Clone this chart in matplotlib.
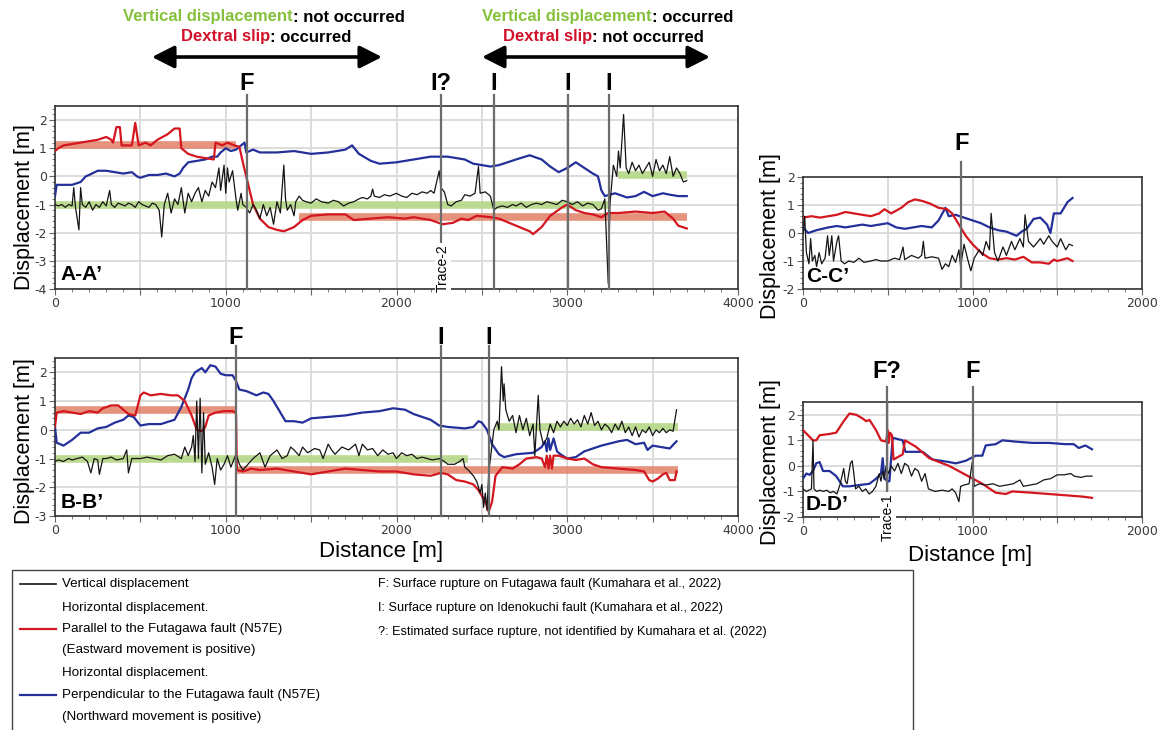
import matplotlib
matplotlib.use('Agg')
import matplotlib.pyplot as plt
from matplotlib import font_manager
from matplotlib.lines import Line2D
from matplotlib.patches import Rectangle, FancyArrowPatch
from matplotlib.ticker import MultipleLocator, FuncFormatter

# ---------------------------------------------------------------
# data  (distance [m], displacement [m])
# ---------------------------------------------------------------

# ----- A-A' -----
aa_vert = [(0, -1.0), (20, -1.05), (40, -1.0), (60, -1.1), (80, -1.0), (100, -1.05), (110, -0.4),
           (120, -1.1), (140, -1.9), (150, -0.4), (160, -1.0), (180, -1.1), (200, -0.9), (220, -1.2),
           (240, -1.0), (260, -1.1), (280, -0.9), (300, -1.05), (320, -0.5), (330, -1.0), (350, -1.1),
           (370, -0.95), (390, -1.0), (410, -1.05), (430, -0.95), (450, -1.0), (470, -1.1), (490, -0.9),
           (510, -1.0), (530, -1.05), (550, -1.1), (570, -0.95), (590, -1.0), (610, -1.2), (625, -2.15),
           (640, -1.0), (660, -0.6), (680, -1.3), (700, -0.8), (720, -1.0), (740, -0.4), (760, -1.3),
           (780, -0.6), (800, -0.9), (820, -0.6), (840, -0.4), (860, -0.9), (880, -0.5), (900, -0.7),
           (920, -0.2), (940, -0.4), (960, 0.3), (970, -0.5), (990, 0.4), (1000, -0.6), (1010, 0.3),
           (1020, -0.2), (1040, 0.2), (1060, -0.8), (1070, -1.2), (1090, -0.6), (1100, -1.0),
           (1120, -1.1), (1140, -1.3), (1160, -1.0), (1180, -1.2), (1200, -1.5), (1220, -1.0),
           (1240, -1.4), (1260, -1.1), (1280, -1.7), (1300, -0.9), (1320, -1.3), (1340, 0.4),
           (1350, -0.8), (1360, -1.2), (1380, -1.0), (1400, -1.4), (1410, -0.9), (1430, -0.7),
           (1450, -0.85), (1470, -0.9), (1500, -0.95), (1530, -0.8), (1560, -0.9), (1600, -0.95),
           (1630, -0.85), (1660, -0.9), (1690, -1.05), (1720, -0.95), (1750, -0.9), (1780, -0.8),
           (1800, -0.75), (1830, -0.8), (1850, -0.7), (1860, -0.45), (1870, -0.7), (1900, -0.75),
           (1930, -0.65), (1960, -0.7), (2000, -0.6), (2030, -0.7), (2060, -0.75), (2090, -0.6),
           (2120, -0.65), (2150, -0.55), (2180, -0.6), (2200, -0.5), (2220, -0.6), (2250, 0.2),
           (2260, -0.4), (2280, -0.55), (2300, -1.0), (2320, -1.05), (2350, -0.9), (2380, -0.85),
           (2400, -0.65), (2430, -0.7), (2460, -0.6), (2480, 0.35), (2490, -0.6), (2520, -0.55),
           (2550, -0.7), (2570, -1.2), (2590, -1.1), (2620, -1.05), (2650, -1.1), (2680, -1.0),
           (2700, -1.05), (2730, -0.95), (2760, -1.1), (2790, -1.0), (2820, -0.95), (2850, -1.0),
           (2880, -0.9), (2910, -0.95), (2940, -1.0), (2970, -0.85), (3000, -0.9), (3030, -1.0),
           (3060, -0.9), (3090, -1.05), (3120, -0.95), (3150, -1.0), (3180, -1.2), (3200, -1.15),
           (3220, -0.8), (3240, -3.8), (3250, -1.0), (3270, 0.4), (3290, 0.0), (3300, 0.9),
           (3310, 0.3), (3330, 2.2), (3345, 0.3), (3360, 0.1), (3380, 0.5), (3400, 0.2), (3420, 0.4),
           (3440, 0.1), (3460, 0.3), (3480, 0.5), (3500, 0.0), (3520, 0.6), (3540, 0.2), (3560, 0.4),
           (3580, 0.1), (3600, 0.7), (3620, 0.0), (3640, 0.3), (3660, 0.1), (3680, -0.2), (3700, -0.15)]
aa_par = [(0, 0.9), (20, 1.0), (50, 1.1), (150, 1.2), (250, 1.3), (300, 1.4), (330, 1.3), (340, 1.2),
          (360, 1.75), (380, 1.75), (390, 1.1), (450, 1.1), (470, 1.9), (490, 1.1), (530, 1.2),
          (560, 1.1), (600, 1.3), (660, 1.5), (700, 1.7), (730, 1.7), (740, 1.0), (780, 0.8),
          (830, 0.7), (880, 0.65), (930, 0.6), (940, 1.2), (980, 1.1), (1010, 1.2), (1050, 1.1),
          (1080, 1.05), (1100, 0.5), (1120, 0.0), (1140, -0.5), (1160, -1.0), (1200, -1.5),
          (1250, -1.8), (1300, -1.9), (1340, -1.95), (1400, -1.8), (1450, -1.55), (1500, -1.4),
          (1600, -1.35), (1700, -1.35), (1750, -1.55), (1850, -1.5), (1950, -1.45), (2050, -1.5),
          (2100, -1.45), (2200, -1.55), (2270, -1.7), (2330, -1.65), (2380, -1.5), (2420, -1.55),
          (2470, -1.4), (2550, -1.45), (2600, -1.5), (2680, -1.7), (2720, -1.8), (2780, -1.95),
          (2800, -2.05), (2850, -1.8), (2900, -1.4), (2970, -1.1), (3000, -1.0), (3050, -1.2),
          (3100, -1.3), (3150, -1.35), (3200, -1.45), (3240, -1.3), (3300, -1.3), (3400, -1.25),
          (3500, -1.3), (3570, -1.25), (3620, -1.5), (3650, -1.75), (3700, -1.85)]
aa_perp = [(0, -0.7), (10, -0.3), (100, -0.3), (150, -0.2), (180, 0.0), (200, 0.05), (250, 0.2),
           (300, 0.2), (350, 0.15), (400, 0.1), (450, 0.15), (480, 0.0), (500, -0.05), (550, 0.05),
           (600, 0.05), (650, 0.1), (700, 0.0), (730, 0.1), (750, 0.3), (780, 0.5), (830, 0.55),
           (880, 0.6), (920, 0.7), (950, 0.7), (970, 0.85), (1000, 1.0), (1030, 0.9), (1060, 0.95),
           (1090, 1.1), (1110, 1.2), (1120, 0.85), (1140, 0.9), (1160, 0.95), (1180, 0.9),
           (1200, 0.85), (1300, 0.85), (1400, 0.9), (1450, 0.85), (1500, 0.8), (1600, 0.85),
           (1700, 0.95), (1740, 1.1), (1780, 0.8), (1850, 0.55), (1900, 0.45), (2000, 0.5),
           (2100, 0.6), (2200, 0.7), (2300, 0.7), (2400, 0.6), (2450, 0.45), (2500, 0.4),
           (2550, 0.35), (2600, 0.4), (2700, 0.6), (2780, 0.75), (2850, 0.6), (2900, 0.35),
           (2950, 0.15), (3000, 0.3), (3050, 0.5), (3100, 0.3), (3150, 0.1), (3180, 0.0),
           (3200, -0.5), (3220, -0.7), (3280, -0.6), (3350, -0.75), (3400, -0.7), (3450, -0.55),
           (3500, -0.7), (3560, -0.6), (3600, -0.65), (3650, -0.7), (3700, -0.7)]
aa_par_ref = [(0, 1060, 1.1), (1430, 3700, -1.45)]      # (from, to, level)
aa_vert_ref = [(0, 3240, -1.0), (3300, 3700, 0.05)]
aa_faults = [(1124, 'F'), (2260, 'I?'), (2571, 'I'), (3004, 'I'), (3244, 'I')]

# ----- B-B' -----
bb_vert = [(0, -1.1), (20, -1.05), (50, -1.1), (80, -1.0), (100, -1.05), (130, -1.0), (160, -0.95),
           (190, -1.1), (210, -1.5), (230, -1.0), (250, -1.05), (260, -1.55), (280, -1.0), (300, -1.0),
           (330, -0.95), (360, -1.05), (400, -1.0), (420, -0.7), (430, -1.5), (450, -1.0), (500, -1.0),
           (540, -0.95), (580, -1.0), (620, -1.05), (660, -0.9), (700, -0.85), (740, -1.0), (760, -0.6),
           (780, -0.9), (800, -0.6), (810, -0.2), (820, -1.1), (830, 1.0), (840, -1.0), (850, 1.1),
           (860, -1.5), (870, 0.6), (880, -1.2), (900, -0.8), (920, -1.3), (935, -1.9), (950, -1.0),
           (970, -1.4), (990, -1.2), (1010, -0.9), (1030, -1.3), (1050, -1.0), (1060, -0.85),
           (1080, -1.2), (1100, -1.4), (1130, -1.2), (1160, -1.0), (1200, -0.8), (1230, -1.3),
           (1260, -0.9), (1300, -0.7), (1330, -1.0), (1360, -0.9), (1380, -0.6), (1400, -0.7),
           (1430, -0.9), (1450, -0.6), (1480, -0.8), (1520, -0.65), (1550, -0.7), (1570, -1.0),
           (1600, -0.5), (1620, -0.7), (1640, -0.85), (1680, -0.6), (1720, -0.7), (1760, -0.5),
           (1780, -0.9), (1800, -0.5), (1830, -0.7), (1860, -0.65), (1890, -0.9), (1920, -0.7),
           (1950, -0.85), (1980, -0.8), (2000, -1.0), (2030, -0.8), (2060, -0.9), (2090, -0.85),
           (2120, -1.0), (2150, -0.95), (2180, -1.0), (2210, -1.05), (2250, -1.0), (2280, -1.1),
           (2300, -1.2), (2340, -1.2), (2370, -1.1), (2390, -1.0), (2400, -1.3), (2420, -1.4),
           (2450, -1.6), (2470, -1.8), (2490, -2.2), (2500, -1.9), (2510, -2.7), (2520, -2.2),
           (2530, -2.8), (2540, -1.5), (2550, -1.0), (2570, 0.0), (2590, 0.3), (2600, 0.0),
           (2615, 2.2), (2625, 1.0), (2630, 1.6), (2640, 0.7), (2660, 0.3), (2680, 0.5), (2700, -0.1),
           (2720, 0.5), (2740, 0.0), (2760, 0.4), (2780, -0.2), (2800, 0.2), (2810, -0.9), (2830, 1.2),
           (2840, 0.0), (2860, -0.5), (2880, -0.3), (2900, 0.2), (2920, -0.1), (2940, 0.3), (2960, 0.1),
           (2980, 0.3), (3000, 0.15), (3020, 0.4), (3040, 0.2), (3060, 0.35), (3080, 0.1), (3100, 0.5),
           (3120, 0.2), (3140, 0.6), (3160, 0.15), (3180, 0.3), (3200, 0.0), (3220, 0.2), (3240, 0.1),
           (3260, -0.1), (3280, 0.2), (3300, 0.0), (3320, 0.3), (3340, -0.1), (3360, 0.1), (3380, -0.2),
           (3400, 0.1), (3420, -0.25), (3440, 0.0), (3460, -0.1), (3480, 0.1), (3500, -0.2), (3520, 0.0),
           (3540, -0.1), (3560, 0.05), (3580, -0.1), (3600, 0.0), (3620, -0.05), (3640, 0.7)]
bb_par = [(0, 0.1), (10, 0.6), (50, 0.65), (100, 0.6), (150, 0.55), (200, 0.65), (250, 0.6),
          (280, 0.75), (330, 0.85), (370, 0.85), (400, 0.7), (430, 0.55), (470, 0.5), (500, 1.2),
          (520, 1.3), (560, 1.2), (620, 1.25), (680, 1.2), (720, 1.2), (760, 1.0), (800, 0.5),
          (830, 0.0), (860, -0.05), (880, 0.1), (900, 0.5), (940, 0.6), (990, 0.65), (1040, 0.65),
          (1060, 0.6), (1065, -1.4), (1100, -1.45), (1150, -1.35), (1200, -1.4), (1300, -1.35),
          (1400, -1.45), (1500, -1.55), (1600, -1.45), (1700, -1.35), (1800, -1.4), (1900, -1.45),
          (2000, -1.45), (2100, -1.55), (2200, -1.6), (2260, -1.5), (2300, -1.55), (2350, -1.75),
          (2400, -1.8), (2450, -1.9), (2480, -2.1), (2500, -2.3), (2520, -2.5), (2540, -2.85),
          (2560, -2.5), (2580, -1.6), (2620, -1.3), (2680, -1.35), (2720, -1.2), (2760, -1.0),
          (2820, -0.95), (2850, -1.0), (2870, -1.3), (2880, -0.9), (2890, -1.35), (2900, -0.9),
          (2910, -1.35), (2920, -0.9), (2950, -0.9), (3000, -1.0), (3050, -1.05), (3100, -1.0),
          (3150, -1.2), (3200, -1.3), (3300, -1.35), (3400, -1.4), (3450, -1.45), (3480, -1.75),
          (3500, -1.8), (3530, -1.7), (3560, -1.55), (3580, -1.5), (3600, -1.75), (3630, -1.75),
          (3640, -1.45)]
bb_perp = [(0, 0.1), (10, -0.45), (50, -0.55), (100, -0.35), (150, -0.1), (200, -0.1), (250, 0.05),
           (300, 0.1), (350, 0.25), (400, 0.35), (430, 0.5), (460, 0.45), (500, 0.15), (550, 0.2),
           (620, 0.2), (700, 0.35), (740, 0.8), (780, 1.4), (800, 1.8), (820, 2.0), (860, 2.15),
           (880, 2.0), (910, 2.25), (940, 2.2), (970, 1.95), (1000, 1.9), (1040, 1.9), (1060, 1.7),
           (1080, 1.4), (1120, 1.35), (1180, 1.2), (1220, 1.3), (1250, 1.25), (1280, 1.0), (1320, 0.6),
           (1350, 0.3), (1400, 0.3), (1450, 0.25), (1500, 0.4), (1600, 0.45), (1700, 0.5), (1800, 0.6),
           (1900, 0.65), (1980, 0.75), (2050, 0.7), (2100, 0.55), (2200, 0.35), (2250, 0.15),
           (2300, 0.1), (2400, 0.05), (2450, 0.1), (2480, 0.3), (2500, 0.25), (2530, 0.0),
           (2560, -0.5), (2600, -0.85), (2630, -0.95), (2700, -0.85), (2800, -0.8), (2850, -0.6),
           (2870, -0.4), (2880, -0.75), (2890, -0.3), (2900, -0.7), (2920, -0.3), (2940, -0.75),
           (2960, -0.85), (3000, -1.0), (3050, -0.95), (3100, -0.75), (3200, -0.55), (3300, -0.4),
           (3350, -0.35), (3400, -0.5), (3450, -0.45), (3470, -0.7), (3500, -0.55), (3550, -0.6),
           (3600, -0.65), (3640, -0.4)]
bb_par_ref = [(0, 1060, 0.7), (1060, 3650, -1.4)]
bb_vert_ref = [(0, 2420, -1.0), (2580, 3650, 0.1)]
bb_faults = [(1060, 'F'), (2260, 'I'), (2540, 'I')]

# ----- C-C' -----
cc_vert = [(0, 0.0), (10, 0.6), (20, -0.7), (35, -1.1), (45, -0.2), (55, -1.0), (70, -0.8), (80, -1.2),
           (95, -0.7), (110, -1.1), (130, -0.9), (145, -0.1), (155, -0.8), (170, -0.1), (180, -1.0),
           (200, -0.3), (210, -0.1), (225, -1.0), (245, -1.1), (270, -1.0), (300, -1.05), (330, -0.9),
           (360, -1.05), (400, -1.0), (430, -0.95), (460, -1.0), (500, -1.0), (540, -0.9), (570, -0.95),
           (590, -0.5), (600, -0.95), (640, -0.8), (680, -0.9), (700, -0.8), (710, -0.3), (720, -0.9),
           (760, -0.85), (800, -0.9), (820, -1.3), (840, -1.1), (860, -1.2), (880, -0.8), (900, -1.05),
           (920, -0.6), (930, -1.2), (950, -0.4), (970, -0.9), (990, -1.35), (1010, -0.9), (1040, -0.6),
           (1060, -0.8), (1080, -0.3), (1100, -0.6), (1110, 0.7), (1130, -0.7), (1150, -1.0),
           (1180, -0.5), (1200, -0.8), (1230, -0.3), (1250, -0.6), (1280, -0.2), (1300, -0.5),
           (1310, 0.65), (1330, -0.3), (1360, -0.5), (1400, -0.2), (1420, -0.4), (1450, -0.1),
           (1470, -0.3), (1500, -0.5), (1520, -0.2), (1550, -0.6), (1570, -0.4), (1590, -0.45)]
cc_par = [(0, 0.55), (50, 0.6), (100, 0.55), (150, 0.6), (200, 0.65), (250, 0.75), (300, 0.7),
          (350, 0.65), (400, 0.6), (450, 0.7), (480, 0.85), (520, 0.7), (580, 0.9), (620, 1.1),
          (660, 1.2), (700, 1.15), (750, 1.05), (800, 0.9), (850, 0.85), (880, 0.7), (920, 0.3),
          (960, -0.1), (1000, -0.4), (1050, -0.7), (1100, -0.9), (1150, -0.95), (1200, -0.9),
          (1250, -0.95), (1300, -0.85), (1350, -1.05), (1400, -1.05), (1450, -1.1), (1480, -0.95),
          (1500, -1.0), (1560, -0.9), (1590, -1.0)]
cc_perp = [(0, 0.2), (30, 0.0), (80, 0.1), (150, 0.2), (200, 0.25), (250, 0.2), (300, 0.25), (350, 0.3),
           (400, 0.25), (450, 0.3), (500, 0.35), (550, 0.2), (600, 0.15), (650, 0.2), (700, 0.25),
           (760, 0.2), (800, 0.45), (840, 0.9), (860, 0.6), (900, 0.65), (950, 0.55), (1000, 0.45),
           (1050, 0.35), (1100, 0.2), (1150, 0.1), (1200, 0.05), (1260, -0.1), (1290, 0.05),
           (1320, 0.15), (1360, 0.5), (1400, 0.55), (1440, 0.3), (1460, 0.0), (1480, 0.7),
           (1520, 0.7), (1560, 1.1), (1590, 1.25)]
cc_faults = [(935, 'F')]

# ----- D-D' -----
dd_vert = [(0, -0.9), (20, -1.0), (50, -0.9), (59, 1.0), (65, -0.9), (80, -1.0), (100, -0.95),
           (120, -1.0), (140, -0.95), (160, -1.05), (180, -1.0), (200, -1.1), (220, -0.7), (240, -0.1),
           (250, -0.6), (260, -0.7), (280, 0.1), (290, 0.2), (300, -0.3), (310, -0.9), (330, -0.8),
           (350, -1.0), (370, -0.9), (390, -1.1), (410, -1.0), (430, -0.8), (450, -0.3), (460, -0.6),
           (470, -0.2), (480, -0.5), (490, 0.0), (505, -0.3), (520, 0.0), (540, -0.2), (560, 0.1),
           (580, -0.3), (600, 0.1), (620, 0.0), (640, -0.4), (660, -0.1), (680, -0.2), (700, -0.6),
           (720, -0.3), (740, -0.9), (780, -1.0), (820, -0.95), (860, -1.0), (880, -0.9), (900, -1.05),
           (920, -1.4), (930, -0.8), (950, -0.75), (980, -0.7), (1000, 0.2), (1010, -0.8), (1040, -0.7),
           (1080, -0.75), (1120, -0.7), (1160, -0.8), (1200, -0.75), (1240, -0.7), (1280, -0.55),
           (1300, -0.8), (1340, -0.75), (1380, -0.7), (1420, -0.55), (1460, -0.5), (1500, -0.35),
           (1540, -0.35), (1580, -0.3), (1600, -0.4), (1640, -0.45), (1670, -0.4), (1705, -0.4)]
dd_par = [(0, 1.4), (59, 1.0), (78, 1.0), (98, 1.2), (157, 1.25), (196, 1.3), (235, 1.7), (274, 2.05),
          (314, 2.0), (353, 1.85), (372, 1.75), (392, 1.8), (431, 1.4), (460, 1.0), (490, 0.95),
          (500, 1.4), (506, 0.9), (513, 1.3), (525, 1.2), (534, 0.25), (588, 0.45), (602, 1.0),
          (666, 0.75), (745, 0.3), (862, 0.0), (960, -0.35), (1058, -0.7), (1137, -1.05), (1196, -1.1),
          (1235, -1.0), (1352, -1.05), (1450, -1.1), (1548, -1.15), (1646, -1.2), (1705, -1.25)]
dd_perp = [(0, -0.5), (20, -0.3), (39, -0.35), (59, -0.2), (78, 0.1), (98, 0.15), (118, -0.2),
           (157, -0.2), (196, -0.4), (235, -0.8), (274, -0.8), (333, -0.75), (392, -0.7), (431, -0.5),
           (460, -0.3), (470, 0.3), (480, -0.5), (500, -0.6), (510, -0.6), (529, 1.1), (588, 1.0),
           (604, 0.55), (706, 0.55), (764, 0.25), (862, 0.15), (902, 0.1), (960, 0.2), (1019, 0.4),
           (1058, 0.4), (1078, 0.8), (1137, 0.85), (1176, 1.0), (1254, 0.95), (1352, 0.9), (1450, 0.9),
           (1548, 0.85), (1597, 0.85), (1627, 0.7), (1666, 0.8), (1705, 0.65)]
dd_faults = [(496, 'F?'), (1000, 'F')]

# ---------------------------------------------------------------
# styles
# ---------------------------------------------------------------
W, H = 1166, 730
RED = '#d4161f'
BLUE = '#23309a'
BLACK = '#141414'
RED_REF = '#e28068'
GREEN_REF = '#b5d886'
GREEN_TXT = '#85c13b'
RED_TXT = '#d1122b'
FAULT_GRAY = '#6c6c6c'

# a condensed face if one is installed, else plain Liberation Sans made a bit smaller
installed = {f.name for f in font_manager.fontManager.ttflist}
if 'Liberation Sans Narrow' in installed:
    NARROW, NSCALE = 'Liberation Sans Narrow', 1.0
else:
    NARROW, NSCALE = 'Liberation Sans', 0.86
plt.rcParams['font.family'] = ['Liberation Sans', 'DejaVu Sans']
plt.rcParams['axes.unicode_minus'] = False

fig = plt.figure(figsize=(W / 100, H / 100), dpi=100)


def fx(px):
    return px / W


def fy(py):
    return 1 - py / H


def make_axes(left, top, right, bottom, xmax, ylim, name):
    ax = fig.add_axes([fx(left), fy(bottom), (right - left) / W, (bottom - top) / H])
    ax.set_xlim(0, xmax)
    ax.set_ylim(*ylim)
    ax.xaxis.set_major_locator(MultipleLocator(500))
    ax.xaxis.set_minor_locator(MultipleLocator(100))
    ax.xaxis.set_major_formatter(FuncFormatter(lambda v, p: '%d' % v if v % 1000 == 0 else ''))
    ax.yaxis.set_major_locator(MultipleLocator(1))
    ax.yaxis.set_minor_locator(MultipleLocator(0.2))
    ax.yaxis.set_major_formatter(FuncFormatter(lambda v, p: '%d' % round(v)))
    ax.grid(True, which='major', color='#dcdcdc', lw=1.4)
    ax.set_axisbelow(True)
    ax.tick_params(which='both', direction='out', color='#666666', labelcolor='#3a3a3a')
    ax.tick_params(which='major', length=4, labelsize=9, pad=2)
    ax.tick_params(which='minor', length=2.5)
    for tl in ax.get_xticklabels() + ax.get_yticklabels():
        tl.set_family('DejaVu Sans')
    for s in ax.spines.values():
        s.set_color('#333333')
        s.set_linewidth(1.2)
    ax.text(0.008, 0.025, name, transform=ax.transAxes, ha='left', va='bottom',
            fontsize=15, fontweight='bold', zorder=6,
            bbox=dict(fc='white', ec='none', pad=0.5))
    return ax


def draw_series(ax, vert, par, perp, par_ref=(), vert_ref=()):
    for x0, x1, lev in par_ref:
        ax.plot([x0, x1], [lev, lev], color=RED_REF, lw=5.5, alpha=0.85, solid_capstyle='butt', zorder=2)
    for x0, x1, lev in vert_ref:
        ax.plot([x0, x1], [lev, lev], color=GREEN_REF, lw=5.5, alpha=0.9, solid_capstyle='butt', zorder=2)
    for data, col, lw in ((perp, BLUE, 1.6), (par, RED, 1.6), (vert, BLACK, 0.9)):
        xs = [p[0] for p in data]
        ys = [p[1] for p in data]
        ax.plot(xs, ys, color=col, lw=lw, zorder=3)


def draw_faults(ax, faults, line_px, label_px):
    h = ax.get_position().height * H
    for x, lbl in faults:
        ax.axvline(x, ymin=0, ymax=1 + line_px / h, color=FAULT_GRAY, lw=1.6, clip_on=False, zorder=4)
        ax.annotate(lbl, xy=(x, 1), xycoords=ax.get_xaxis_transform(),
                    xytext=(0, label_px * 0.72), textcoords='offset points',
                    ha='center', va='center', fontsize=17, fontweight='bold', family=NARROW)


def y_label(ax, right_px, center_px):
    # right_px: x of the label's right edge, center_px: y of its centre (figure pixels)
    pos = ax.get_position()
    ax.set_ylabel('Displacement [m]', fontsize=15.5)
    ax.yaxis.set_label_coords((fx(right_px) - pos.x0) / pos.width,
                              (fy(center_px) - pos.y0) / pos.height)


def x_label(ax, center_x_px, center_y_px):
    pos = ax.get_position()
    ax.set_xlabel('Distance [m]', fontsize=16, va='center')
    ax.xaxis.set_label_coords((fx(center_x_px) - pos.x0) / pos.width,
                              (fy(center_y_px) - pos.y0) / pos.height)


# ----- A-A' -----
axA = make_axes(55, 106, 738, 289, 4000, (-4, 2.5), 'A-A\u2019')
draw_series(axA, aa_vert, aa_par, aa_perp, aa_par_ref, aa_vert_ref)
draw_faults(axA, aa_faults, 11, 23)
axA.text(2272, -3.25, 'Trace-2', rotation=90, ha='center', va='center', fontsize=10,
         zorder=5, bbox=dict(fc='white', ec='none', pad=0.8))
y_label(axA, 35, 207)

# ----- C-C' -----
axC = make_axes(803, 177, 1142, 289, 2000, (-2, 2), 'C-C\u2019')
draw_series(axC, cc_vert, cc_par, cc_perp)
draw_faults(axC, cc_faults, 15, 33)
y_label(axC, 781, 236)

# ----- B-B' -----
axB = make_axes(55, 358, 738, 516, 4000, (-3, 2.5), 'B-B\u2019')
draw_series(axB, bb_vert, bb_par, bb_perp, bb_par_ref, bb_vert_ref)
draw_faults(axB, bb_faults, 12, 21)
y_label(axB, 35, 441)
x_label(axB, 381, 552)

# ----- D-D' -----
axD = make_axes(803, 402, 1142, 517, 2000, (-2, 2.5), 'D-D\u2019')
draw_series(axD, dd_vert, dd_par, dd_perp)
draw_faults(axD, dd_faults, 15, 31)
axD.text(500, -2.0, 'Trace-1', rotation=90, ha='center', va='center', fontsize=10,
         zorder=5, clip_on=False, bbox=dict(fc='white', ec='none', pad=0.8))
y_label(axD, 781, 462)
x_label(axD, 970, 555)

# ----- top annotations -----
def two_tone(xsplit_px, y_px, colored, col, rest):
    fig.text(fx(xsplit_px), fy(y_px), colored, color=col, ha='right', va='center',
             fontsize=12 * NSCALE / 0.86 if NSCALE == 1.0 else 12, fontweight='bold', family=NARROW)
    fig.text(fx(xsplit_px), fy(y_px), rest, color='black', ha='left', va='center',
             fontsize=12 * NSCALE / 0.86 if NSCALE == 1.0 else 12, fontweight='bold', family=NARROW)


two_tone(293, 17, 'Vertical displacement', GREEN_TXT, ': not occurred')
two_tone(270, 37, 'Dextral slip', RED_TXT, ': occurred')
two_tone(652, 17, 'Vertical displacement', GREEN_TXT, ': occurred')
two_tone(592, 37, 'Dextral slip', RED_TXT, ': not occurred')

for x0, x1 in ((152, 382), (482, 710)):
    fig.add_artist(FancyArrowPatch(
        (fx(x0), fy(57)), (fx(x1), fy(57)), transform=fig.transFigure,
        arrowstyle='<|-|>,head_length=0.75,head_width=0.38', mutation_scale=18,
        lw=2.6, color='black', shrinkA=0, shrinkB=0))

# ----- legend box -----
fig.add_artist(Rectangle((fx(12), fy(735)), (913 - 12) / W, (735 - 570) / H,
                         transform=fig.transFigure, fill=False, ec='#444444', lw=1.0))
leg_rows = [(584, 'Vertical displacement'),
            (608, 'Horizontal displacement.'),
            (629, 'Parallel to the Futagawa fault (N57E)'),
            (650, '(Eastward movement is positive)'),
            (673, 'Horizontal displacement.'),
            (695, 'Perpendicular to the Futagawa fault (N57E)'),
            (717, '(Northward movement is positive)')]
for y, txt in leg_rows:
    fig.text(fx(62), fy(y), txt, ha='left', va='center', fontsize=11.2 * NSCALE, family=NARROW)
for y, col in ((584, BLACK), (629, RED), (695, BLUE)):
    fig.add_artist(Line2D([fx(20), fx(56)], [fy(y), fy(y)], transform=fig.transFigure,
                          color=col, lw=1.6 if col != BLACK else 1.2))
notes = [(584, 'F: Surface rupture on Futagawa fault (Kumahara et al., 2022)'),
         (608, 'I: Surface rupture on Idenokuchi fault (Kumahara et al., 2022)'),
         (632, '?: Estimated surface rupture, not identified by Kumahara et al. (2022)')]
for y, txt in notes:
    fig.text(fx(378), fy(y), txt, ha='left', va='center', fontsize=10.6 * NSCALE, family=NARROW)

fig.savefig('out.png', dpi=100)
